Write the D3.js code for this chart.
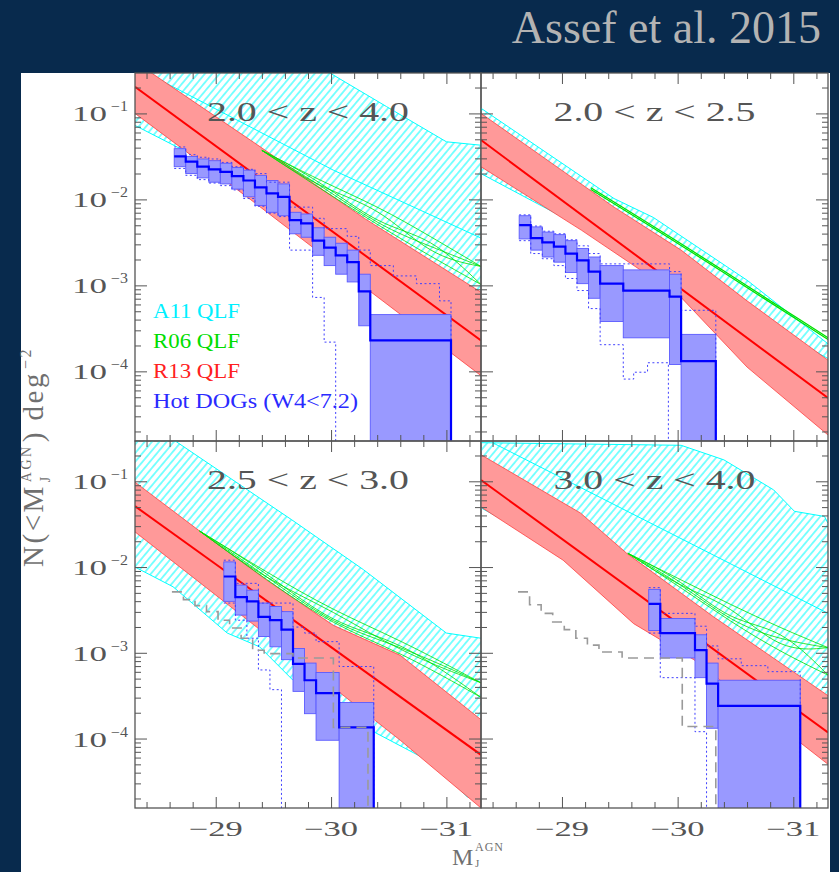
<!DOCTYPE html>
<html>
<head>
<meta charset="utf-8">
<title>Hot DOGs cumulative number counts</title>
<script src="https://cdn.jsdelivr.net/npm/d3@7/dist/d3.min.js"></script>
<style>
  html, body { margin: 0; padding: 0; background: #082a4d; }
  svg { display: block; }
  text { font-family: "Liberation Serif", "DejaVu Serif", serif; }
</style>
</head>
<body>
<svg id="chart" width="839" height="872"></svg>
<script>
// Redshift bins, one per panel: top-left, top-right, bottom-left, bottom-right
const zBins = ["2.0 < z < 4.0", "2.0 < z < 2.5", "2.5 < z < 3.0", "3.0 < z < 4.0"];
const magTicks = [-29, -30, -31];
const decadeTicks = [-1, -2, -3, -4];
const legendLabels = ["A11 QLF", "R06 QLF", "R13 QLF", "Hot DOGs (W4<7.2)"];

// Values are log10 N(<M) in deg^-2, magnitudes are M_J^AGN.

// R13 QLF band: [M, logN] along upper edge, median and lower edge
const r13Hi_A = [[-28.3,-0.40],[-29.3,-1.31],[-30.3,-2.23],[-31.3,-3.08]];
const r13Mid_A = [[-28.3,-0.69],[-31.3,-3.64]];
const r13Lo_A = [[-28.3,-1.00],[-29.3,-2.00],[-30.3,-3.03],[-31.3,-4.05]];
const r13Hi_B = [[-28.3,-1.00],[-29.45,-2.09],[-30.03,-2.59],[-30.6,-3.18],[-31.3,-3.87]];
const r13Mid_B = [[-28.3,-1.31],[-31.3,-4.31]];
const r13Lo_B = [[-28.3,-1.62],[-29.17,-2.36],[-30.03,-3.14],[-30.6,-3.95],[-31.3,-4.74]];
const r13Hi_C = [[-28.3,-1.01],[-28.86,-1.58],[-29.44,-2.15],[-30.02,-2.68],[-30.6,-3.03],[-31.3,-3.78]];
const r13Mid_C = [[-28.3,-1.29],[-31.3,-4.19]];
const r13Lo_C = [[-28.3,-1.59],[-29.44,-2.79],[-30.6,-4.02],[-31.3,-4.81]];
const r13Hi_D = [[-28.3,-0.69],[-29.16,-1.37],[-29.56,-1.84],[-30.31,-2.58],[-31.3,-3.50]];
const r13Mid_D = [[-28.3,-0.985],[-31.3,-3.93]];
const r13Lo_D = [[-28.3,-1.30],[-29.01,-1.92],[-29.62,-2.66],[-30.14,-3.08],[-31.3,-4.30]];

// A11 QLF band (hatched): upper edge, median (where drawn), lower edge
const a11Hi_A = [[-28.3,0.10],[-29.2,-0.20],[-29.99,-0.53],[-30.48,-0.92],[-31.0,-1.33],[-31.3,-1.37]];
const a11Mid_A = [[-28.3,-0.46],[-30.02,-1.66],[-31.3,-2.45]];
const a11Lo_A = [[-28.3,-1.14],[-31.3,-3.20]];
const a11Hi_B = [[-28.3,-0.94],[-29.45,-1.99],[-29.79,-2.21],[-30.6,-2.94],[-31.3,-3.68]];
const a11Lo_B = [[-28.3,-1.70],[-31.3,-3.85]];
const a11Hi_C = [[-28.3,-0.34],[-28.66,-0.54],[-29.66,-1.45],[-30.28,-2.03],[-31.0,-2.77],[-31.3,-2.83]];
const a11Lo_C = [[-28.3,-2.00],[-28.63,-2.23],[-29.1,-2.77],[-29.38,-2.93],[-29.67,-3.32],[-30.02,-3.51],
                 [-30.34,-3.90],[-30.89,-4.29],[-31.18,-4.68],[-31.3,-4.72]];
const a11Hi_D = [[-28.3,-0.55],[-30.03,-0.58],[-30.4,-0.75],[-30.83,-1.10],[-31.01,-1.35],[-31.27,-1.41],[-31.3,-1.49]];
const a11Mid_D = [[-28.4,-0.55],[-31.3,-2.54]];
const a11Lo_D = [[-28.3,-1.31],[-31.3,-3.52]];

// R06 QLF envelope: [M, upper logN, lower logN]
const r06_A = [[-29.40,-1.43,-1.43],[-29.90,-1.78,-1.87],[-30.42,-2.09,-2.31],[-30.86,-2.43,-2.66],[-31.3,-2.78,-2.99]];
const r06_B = [[-29.25,-1.865,-1.885],[-30.03,-2.51,-2.53],[-31.3,-3.61,-3.63]];
const r06_C = [[-28.86,-1.58,-1.58],[-29.44,-2.06,-2.15],[-30.02,-2.51,-2.68],[-30.6,-2.85,-2.99],[-31.3,-3.35,-3.52]];
const r06_D = [[-29.57,-1.84,-1.84],[-30.03,-2.15,-2.24],[-30.46,-2.44,-2.64],[-30.89,-2.71,-2.99],[-31.3,-2.94,-3.26]];

// Hot DOGs: bin edges, then per-bin value, upper and lower bound (null = no lower bound)
const dogEdges_A = [-28.64,-28.74,-28.84,-28.94,-29.04,-29.14,-29.24,-29.34,-29.44,-29.54,-29.64,-29.74,-29.84,-29.94,-30.04,-30.14,-30.24,-30.34,-31.04];
const dogMid_A = [-1.50,-1.56,-1.62,-1.65,-1.68,-1.73,-1.78,-1.86,-1.93,-1.97,-2.24,-2.28,-2.48,-2.56,-2.65,-2.73,-3.07,-3.64];
const dogHi_A = [-1.41,-1.50,-1.53,-1.55,-1.58,-1.63,-1.66,-1.72,-1.78,-1.82,-2.15,-2.17,-2.33,-2.44,-2.51,-2.59,-2.87,-3.34];
const dogLo_A = [-1.62,-1.70,-1.75,-1.80,-1.82,-1.88,-1.97,-2.07,-2.15,-2.19,-2.40,-2.44,-2.65,-2.77,-2.87,-2.96,-3.47,null];
const dogEdges_B = [-28.63,-28.73,-28.83,-28.93,-29.03,-29.13,-29.23,-29.33,-29.53,-29.93,-30.03,-30.33];
const dogMid_B = [-2.30,-2.45,-2.50,-2.55,-2.63,-2.71,-2.84,-2.98,-3.06,-3.13,-3.88];
const dogHi_B = [-2.19,-2.32,-2.38,-2.41,-2.48,-2.57,-2.67,-2.77,-2.82,-2.87,-3.57];
const dogLo_B = [-2.46,-2.59,-2.67,-2.73,-2.85,-2.98,-3.15,-3.42,-3.61,-3.92,null];
const dogEdges_C = [-29.07,-29.17,-29.27,-29.37,-29.47,-29.57,-29.67,-29.77,-29.87,-30.07,-30.37];
const dogMid_C = [-2.11,-2.35,-2.40,-2.58,-2.62,-2.73,-3.13,-3.32,-3.47,-3.87];
const dogHi_C = [-1.94,-2.21,-2.27,-2.42,-2.46,-2.52,-2.95,-3.12,-3.23,-3.58];
const dogLo_C = [-2.40,-2.56,-2.63,-2.81,-2.93,-3.08,-3.45,-3.71,-4.02,null];
const dogEdges_D = [-29.75,-29.85,-30.15,-30.25,-30.35,-31.06];
const dogMid_D = [-2.43,-2.77,-2.97,-3.36,-3.62];
const dogHi_D = [-2.26,-2.60,-2.79,-3.12,-3.32];
const dogLo_D = [-2.74,-3.06,-3.29,-3.88,null];

// Alternative Hot DOG bounds (dotted steps)
const dotHiEdges_A = [-28.64,-28.74,-28.84,-28.94,-29.04,-29.14,-29.24,-29.34,-29.44,-29.64,-29.84,-29.94,-30.14,-30.24,-30.34,-30.54,-30.74,-30.94,-31.04];
const dotHi_A = [-1.39,-1.48,-1.51,-1.53,-1.57,-1.62,-1.65,-1.70,-1.80,-2.09,-2.22,-2.34,-2.43,-2.59,-2.77,-2.89,-2.98,-3.18];
const dotLoEdges_A = [-28.64,-28.74,-28.84,-28.94,-29.04,-29.14,-29.24,-29.34,-29.44,-29.54,-29.64,-29.84,-29.94,-30.04];
const dotLo_A = [-1.64,-1.72,-1.77,-1.81,-1.84,-1.89,-1.99,-2.08,-2.16,-2.20,-2.59,-3.14,-3.66];
const dotHiEdges_B = [-28.63,-28.73,-28.83,-28.93,-29.03,-29.13,-29.23,-29.33,-29.93,-30.03,-30.33];
const dotHi_B = [-2.18,-2.31,-2.37,-2.40,-2.47,-2.54,-2.63,-2.75,-2.84,-3.29];
const dotLoEdges_B = [-28.63,-28.73,-28.83,-28.93,-29.03,-29.13,-29.23,-29.33,-29.53,-29.62,-29.74,-29.92];
const dotLo_B = [-2.48,-2.63,-2.69,-2.77,-2.92,-3.06,-3.27,-3.69,-4.09,-4.01,-3.90];
const dotHiEdges_C = [-29.07,-29.17,-29.37,-29.67,-29.77,-29.87,-30.07,-30.37];
const dotHi_C = [-1.92,-2.19,-2.42,-2.70,-2.77,-2.87,-3.16];
const dotLoEdges_C = [-29.07,-29.17,-29.27,-29.37,-29.47,-29.57];
const dotLo_C = [-2.42,-2.62,-2.83,-3.20,-3.43];
const dotHiEdges_D = [-29.75,-29.85,-30.15,-30.25,-30.35,-30.55,-30.78,-31.06];
const dotHi_D = [-2.24,-2.54,-2.69,-2.92,-3.07,-3.15,-3.22];
const dotLoEdges_D = [-29.75,-29.85,-30.15,-30.25];
const dotLo_D = [-2.77,-3.29,-3.92];

// Comparison counts (grey dashed steps) for the two higher-z panels
const grayEdges_C = [-28.62,-28.72,-28.82,-28.92,-29.02,-29.12,-29.22,-29.32,-29.42,-29.67,-30.02,-30.32];
const gray_C = [-2.29,-2.38,-2.45,-2.52,-2.62,-2.71,-2.83,-2.97,-3.01,-3.06,-3.87];
const grayEdges_D = [-28.62,-28.72,-28.82,-28.92,-29.02,-29.12,-29.22,-29.32,-29.52,-30.04,-30.33];
const gray_D = [-2.29,-2.44,-2.54,-2.64,-2.73,-2.83,-2.91,-2.99,-3.06,-3.86];

// ---------------------------------------------------------------------------
const W = 839, H = 872;
const FLOOR = -6;               // stands in for "no lower bound" on the log axis
const M_DOMAIN = [-28.3, -31.3];
const LOG_DOMAIN = [-4.81, -0.53];
const cols = [[135, 481], [481, 828]];
const rows = [[73, 441], [441, 808]];
const INK = "#555555";

const panels = [
  { title: zBins[0], c: 0, r: 0,
    a11: { hi: a11Hi_A, mid: a11Mid_A, lo: a11Lo_A }, r13: { hi: r13Hi_A, mid: r13Mid_A, lo: r13Lo_A }, r06: r06_A,
    dog: { edges: dogEdges_A, mid: dogMid_A, hi: dogHi_A, lo: dogLo_A },
    dotHi: [dotHiEdges_A, dotHi_A], dotLo: [dotLoEdges_A, dotLo_A], gray: null },
  { title: zBins[1], c: 1, r: 0,
    a11: { hi: a11Hi_B, mid: null, lo: a11Lo_B }, r13: { hi: r13Hi_B, mid: r13Mid_B, lo: r13Lo_B }, r06: r06_B,
    dog: { edges: dogEdges_B, mid: dogMid_B, hi: dogHi_B, lo: dogLo_B },
    dotHi: [dotHiEdges_B, dotHi_B], dotLo: [dotLoEdges_B, dotLo_B], gray: null },
  { title: zBins[2], c: 0, r: 1,
    a11: { hi: a11Hi_C, mid: null, lo: a11Lo_C }, r13: { hi: r13Hi_C, mid: r13Mid_C, lo: r13Lo_C }, r06: r06_C,
    dog: { edges: dogEdges_C, mid: dogMid_C, hi: dogHi_C, lo: dogLo_C },
    dotHi: [dotHiEdges_C, dotHi_C], dotLo: [dotLoEdges_C, dotLo_C], gray: [grayEdges_C, gray_C] },
  { title: zBins[3], c: 1, r: 1,
    a11: { hi: a11Hi_D, mid: a11Mid_D, lo: a11Lo_D }, r13: { hi: r13Hi_D, mid: r13Mid_D, lo: r13Lo_D }, r06: r06_D,
    dog: { edges: dogEdges_D, mid: dogMid_D, hi: dogHi_D, lo: dogLo_D },
    dotHi: [dotHiEdges_D, dotHi_D], dotLo: [dotLoEdges_D, dotLo_D], gray: [grayEdges_D, gray_D] }
];

const svg = d3.select("#chart");
svg.append("rect").attr("width", W).attr("height", H).attr("fill", "#082a4d");
svg.append("rect").attr("x", 21).attr("y", 73).attr("width", 809).attr("height", 799).attr("fill", "#ffffff");

svg.append("text").attr("x", 821).attr("y", 43).attr("text-anchor", "end")
  .attr("font-size", 46).attr("fill", "#b3b3b3").text("Assef et al. 2015");

const defs = svg.append("defs");
const hatch = defs.append("pattern").attr("id", "hatch").attr("patternUnits", "userSpaceOnUse")
  .attr("width", 5.6).attr("height", 10).attr("patternTransform", "rotate(40)");
hatch.append("line").attr("x1", 2.8).attr("x2", 2.8).attr("y1", 0).attr("y2", 10)
  .attr("stroke", "#00ffff").attr("stroke-width", 1);

// Step outline through bins; optional drop to the floor after the last bin
function stepPoints(edges, vals, drop) {
  const pts = [];
  vals.forEach((v, i) => {
    const vv = v == null ? FLOOR : v;
    pts.push([edges[i], vv], [edges[i + 1], vv]);
  });
  if (drop) pts.push([edges[edges.length - 1], FLOOR]);
  return pts;
}

// Log-spaced minor ticks (2..9 per decade) inside the axis range
const minorLog = [];
for (let d = -6; d <= 0; d++) for (let k = 2; k <= 9; k++) {
  const v = d + Math.log10(k);
  if (v > LOG_DOMAIN[0] && v < LOG_DOMAIN[1]) minorLog.push(v);
}
const minorMag = d3.range(-28.4, -31.31, -0.2).filter(v => Math.abs(v - Math.round(v)) > 0.05);

// Interlaced strands drawn inside the R06 envelope (0 = upper edge, 1 = lower edge)
const strandFractions = [[0, 1, 0, 1, 0], [0, 0, 1, 0, 1], [0, 0.5, 1, 0.5, 0]];

panels.forEach((p, i) => {
  const [x0, x1] = cols[p.c], [y0, y1] = rows[p.r];
  const x = d3.scaleLinear().domain(M_DOMAIN).range([x0, x1]);
  const y = d3.scaleLog().domain(LOG_DOMAIN.map(v => Math.pow(10, v))).range([y1, y0]);
  const py = v => y(Math.pow(10, v));
  const line = d3.line().x(d => x(d[0])).y(d => py(d[1]));
  const bandPath = (hi, lo) => line(hi.concat(lo.slice().reverse())) + "Z";

  defs.append("clipPath").attr("id", "clip" + i).append("rect")
    .attr("x", x0).attr("y", y0).attr("width", x1 - x0).attr("height", y1 - y0);
  const g = svg.append("g").attr("clip-path", `url(#clip${i})`);

  // A11: hatched band with thin edges
  g.append("path").attr("d", bandPath(p.a11.hi, p.a11.lo)).attr("fill", "url(#hatch)");
  [p.a11.hi, p.a11.lo, p.a11.mid].filter(Boolean).forEach(l =>
    g.append("path").attr("d", line(l)).attr("fill", "none").attr("stroke", "#00ffff").attr("stroke-width", 1));

  // R13: solid band with median
  g.append("path").attr("d", bandPath(p.r13.hi, p.r13.lo)).attr("fill", "#ff9999");
  [p.r13.hi, p.r13.lo].forEach(l =>
    g.append("path").attr("d", line(l)).attr("fill", "none").attr("stroke", "#ff4040").attr("stroke-width", 0.8));
  g.append("path").attr("d", line(p.r13.mid)).attr("fill", "none").attr("stroke", "#ff0000").attr("stroke-width", 2);

  // R06: envelope edges plus interlaced strands
  const r06Line = d3.line().x(d => x(d[0])).y(d => py(d[1])).curve(d3.curveBasis);
  const hiPts = p.r06.map(d => [d[0], d[1]]), loPts = p.r06.map(d => [d[0], d[2]]);
  const wide = p.r06.length > 3;
  [hiPts, loPts].forEach(l =>
    g.append("path").attr("d", r06Line(l)).attr("fill", "none").attr("stroke", "#00e000").attr("stroke-width", wide ? 0.8 : 1.3));
  if (wide) {
    strandFractions.forEach(fr => {
      const pts = p.r06.map((d, k) => [d[0], d[1] + fr[k % fr.length] * (d[2] - d[1])]);
      g.append("path").attr("d", r06Line(pts)).attr("fill", "none").attr("stroke", "#00e000").attr("stroke-width", 0.8);
    });
  }

  // Hot DOGs: per-bin uncertainty boxes
  p.dog.mid.forEach((m, k) => {
    const xa = x(p.dog.edges[k]), xb = x(p.dog.edges[k + 1]);
    const ya = py(p.dog.hi[k]), yb = py(p.dog.lo[k] == null ? FLOOR : p.dog.lo[k]);
    g.append("rect").attr("x", xa).attr("y", ya).attr("width", xb - xa).attr("height", yb - ya)
      .attr("fill", "#9999ff").attr("stroke", "#5a5aff").attr("stroke-width", 0.9);
  });
  // dotted alternative bounds
  [p.dotHi, p.dotLo].forEach(s =>
    g.append("path").attr("d", line(stepPoints(s[0], s[1], true))).attr("fill", "none")
      .attr("stroke", "#4040ff").attr("stroke-width", 1).attr("stroke-dasharray", "2,2.5"));
  // central step
  g.append("path").attr("d", line(stepPoints(p.dog.edges, p.dog.mid, true))).attr("fill", "none")
    .attr("stroke", "#0000ff").attr("stroke-width", 2.2);
  // grey comparison counts
  if (p.gray) {
    g.append("path").attr("d", line(stepPoints(p.gray[0], p.gray[1], true))).attr("fill", "none")
      .attr("stroke", "#9a9a9a").attr("stroke-width", 1.6).attr("stroke-dasharray", "10,6");
  }

  // Axes: inward ticks on all four sides
  const ax = svg.append("g");
  const tidy = sel => {
    sel.select("path.domain").remove();
    sel.selectAll("text").remove();
    sel.selectAll("line").attr("stroke", "#555").attr("stroke-width", 1);
  };
  const yLog = d3.scaleLinear().domain(LOG_DOMAIN).range([y1, y0]);
  [[magTicks, 11], [minorMag, 6]].forEach(([vals, len]) => {
    ax.append("g").attr("transform", `translate(0,${y1})`).call(d3.axisBottom(x).tickValues(vals).tickSize(-len)).call(tidy);
    ax.append("g").attr("transform", `translate(0,${y0})`).call(d3.axisTop(x).tickValues(vals).tickSize(-len)).call(tidy);
  });
  [[decadeTicks, 12], [minorLog, 6]].forEach(([vals, len]) => {
    ax.append("g").attr("transform", `translate(${x0},0)`).call(d3.axisLeft(yLog).tickValues(vals).tickSize(-len)).call(tidy);
    ax.append("g").attr("transform", `translate(${x1},0)`).call(d3.axisRight(yLog).tickValues(vals).tickSize(-len)).call(tidy);
  });
  ax.append("rect").attr("x", x0).attr("y", y0).attr("width", x1 - x0).attr("height", y1 - y0)
    .attr("fill", "none").attr("stroke", "#555").attr("stroke-width", 1.3);

  // Panel title
  ax.append("text").attr("x", (x0 + x1) / 2).attr("y", y0 + 48).attr("text-anchor", "middle")
    .attr("font-size", 27).attr("fill", INK).attr("textLength", 202).attr("lengthAdjust", "spacingAndGlyphs")
    .text(p.title);

  // Tick labels
  if (p.c === 0) {
    decadeTicks.forEach(t => {
      const ty = py(t);
      ax.append("text").attr("x", 72).attr("y", ty + 8).attr("font-size", 22).attr("fill", INK)
        .attr("textLength", 35).attr("lengthAdjust", "spacingAndGlyphs").text("10");
      ax.append("text").attr("x", 111).attr("y", ty - 2).attr("font-size", 14).attr("fill", INK)
        .attr("textLength", 17).attr("lengthAdjust", "spacingAndGlyphs").text("\u2212" + (-t));
    });
  }
  if (p.r === 1) {
    magTicks.forEach(m => {
      ax.append("text").attr("x", x(m)).attr("y", 836).attr("text-anchor", "middle").attr("font-size", 21)
        .attr("fill", INK).attr("textLength", 54).attr("lengthAdjust", "spacingAndGlyphs")
        .text("\u2212" + Math.abs(m));
    });
  }
});

// Legend in the first panel
const legendColors = ["#00f0ff", "#00dd00", "#ff2020", "#2a2aff"];
const legendWidths = [87, 87, 87, 205];
legendLabels.forEach((t, k) => {
  svg.append("text").attr("x", 153).attr("y", 318 + k * 30).attr("font-size", 20)
    .attr("fill", legendColors[k]).attr("textLength", legendWidths[k]).attr("lengthAdjust", "spacingAndGlyphs").text(t);
});

// Y axis title: pieces laid out one after another along the rotated baseline
const TITLE_INK = "#707070";
const yt = svg.append("g").attr("transform", "translate(43,456) rotate(-90)")
  .append("text").attr("font-size", 29).attr("fill", TITLE_INK).attr("letter-spacing", 2.5);
const pieces = [
  { t: "N(<M", size: 29, dy: 0 },
  { t: "AGN", size: 14, dy: -12, stackWithNext: true },
  { t: "J", size: 14, dy: 7 },
  { t: ") deg", size: 29, dy: 0 },
  { t: "\u22122", size: 16, dy: -12 }
];
const spans = pieces.map(pc => yt.append("tspan").attr("font-size", pc.size).attr("y", pc.dy).text(pc.t));
let cursor = 0, stackWidth = 0;
const xs = [];
pieces.forEach((pc, k) => {
  xs.push(cursor);
  const w = spans[k].node().getComputedTextLength();
  if (pc.stackWithNext) { stackWidth = w; }
  else { cursor += Math.max(w, stackWidth) + 2; stackWidth = 0; }
});
const total = cursor;
spans.forEach((s, k) => s.attr("x", xs[k] - total / 2));

// X axis title, tucked against the bottom edge
const xt = svg.append("text").attr("fill", TITLE_INK);
xt.append("tspan").attr("x", 452).attr("y", 865).attr("font-size", 24).text("M");
xt.append("tspan").attr("x", 475).attr("y", 851).attr("font-size", 12).attr("letter-spacing", 1).text("AGN");
xt.append("tspan").attr("x", 475).attr("y", 867).attr("font-size", 11).text("J");
</script>
</body>
</html>
